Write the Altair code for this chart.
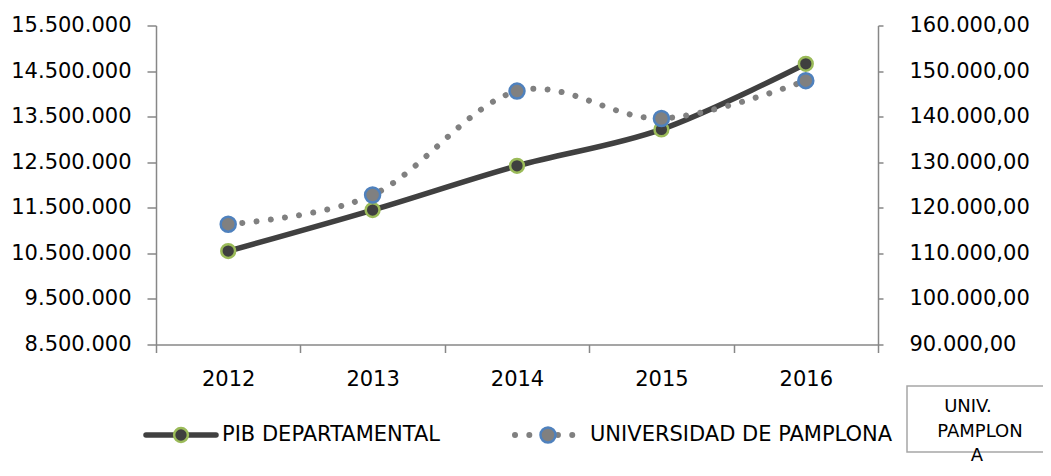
import altair as alt
import pandas as pd

# ---- data ----
years = ["2012", "2013", "2014", "2015", "2016"]
pib_values = [10550000, 11450000, 12420000, 13220000, 14660000]
univ_values = [116400, 122800, 145600, 139600, 147900]
series_names = ["PIB DEPARTAMENTAL", "UNIVERSIDAD DE PAMPLONA"]
left_ticks = [8500000, 9500000, 10500000, 11500000, 12500000, 13500000, 14500000, 15500000]
right_ticks = [90000, 100000, 110000, 120000, 130000, 140000, 150000, 160000]
box_lines = ["UNIV.", "PAMPLON", "A"]

FONT = "DejaVu Sans"
FS = 21
AXIS_COLOR = "#878787"
PIB_SIZE = 190
UNIV_SIZE = 225

df = pd.DataFrame({"year": years, "pib": pib_values, "univ": univ_values})
base = alt.Chart(df)

x = alt.X(
    "year:N",
    bandPosition=0.5,
    scale=alt.Scale(type="band", paddingInner=0, paddingOuter=0),
    axis=alt.Axis(
        title=None, tickBand="extent", labelAngle=0, tickSize=8, labelPadding=16,
        domainColor=AXIS_COLOR, tickColor=AXIS_COLOR, domainWidth=1.5, tickWidth=1.5,
        grid=False,
    ),
)

y_pib = alt.Y(
    "pib:Q",
    scale=alt.Scale(domain=[8500000, 15500000], nice=False, zero=False),
    axis=alt.Axis(
        orient="left", title=None, values=left_ticks, grid=False,
        labelExpr="replace(format(datum.value, ',.0f'), regexp(',', 'g'), '.')",
        tickSize=9, labelPadding=16, domainColor=AXIS_COLOR, tickColor=AXIS_COLOR,
        domainWidth=1.5, tickWidth=1.5,
    ),
)
y_univ = alt.Y(
    "univ:Q",
    scale=alt.Scale(domain=[90000, 160000], nice=False, zero=False),
    axis=alt.Axis(
        orient="right", title=None, values=right_ticks, grid=False,
        labelExpr="format(datum.value / 1000, 'd') + '.000,00'",
        tickSize=5, labelPadding=26, domainColor=AXIS_COLOR, tickColor=AXIS_COLOR,
        domainWidth=1.5, tickWidth=1.5,
    ),
)

pib_line = base.mark_line(color="#404040", strokeWidth=5.5, interpolate="cardinal").encode(x=x, y=y_pib)
pib_pts = base.mark_circle(size=PIB_SIZE, fill="#3F3F3F", stroke="#9BBB59", strokeWidth=2.5, opacity=1).encode(x=x, y=y_pib)
univ_line = base.mark_line(
    color="#808080", strokeWidth=6, strokeDash=[0.01, 14.3], strokeCap="round", interpolate="cardinal"
).encode(x=x, y=y_univ)
univ_pts = base.mark_circle(size=UNIV_SIZE, fill="#808080", stroke="#4F81BD", strokeWidth=2.5, opacity=1).encode(x=x, y=y_univ)

pib_layer = alt.layer(pib_line, pib_pts)
univ_layer = alt.layer(univ_line, univ_pts)

# ---- legend (drawn manually to mimic Excel's line+marker swatches) ----
leg1 = alt.Chart(pd.DataFrame({"label": [series_names[0]]}))
leg2 = alt.Chart(pd.DataFrame({"label": [series_names[1]]}))
LY = 409.5
leg_pib_line = leg1.mark_rule(color="#404040", strokeWidth=5.5, strokeCap="round").encode(
    x=alt.value(-10), x2=alt.value(60), y=alt.value(LY))
leg_pib_pt = leg1.mark_circle(size=PIB_SIZE, fill="#3F3F3F", stroke="#9BBB59", strokeWidth=2.5, opacity=1).encode(
    x=alt.value(25), y=alt.value(LY))
leg_pib_txt = leg1.mark_text(align="left", baseline="middle", font=FONT, fontSize=FS, color="#000000").encode(
    x=alt.value(66), y=alt.value(LY), text="label:N")
leg_univ_line = leg2.mark_rule(color="#808080", strokeWidth=6, strokeDash=[0.01, 14.3], strokeCap="round").encode(
    x=alt.value(359), x2=alt.value(420), y=alt.value(LY))
leg_univ_pt = leg2.mark_circle(size=UNIV_SIZE, fill="#808080", stroke="#4F81BD", strokeWidth=2.5, opacity=1).encode(
    x=alt.value(392), y=alt.value(LY))
leg_univ_txt = leg2.mark_text(align="left", baseline="middle", font=FONT, fontSize=FS, color="#000000").encode(
    x=alt.value(434), y=alt.value(LY), text="label:N")

# ---- data-label box at bottom right ----
BFS = 18
box = alt.Chart(pd.DataFrame({"label": [box_lines[0]]})).mark_rect(
    fill="white", stroke="#A6A6A6", strokeWidth=1.5).encode(
    x=alt.value(751), x2=alt.value(905), y=alt.value(360.5), y2=alt.value(426.5))
box_t1 = alt.Chart(pd.DataFrame({"t": [box_lines[0]]})).mark_text(
    align="center", baseline="middle", font=FONT, fontSize=BFS, color="#000000").encode(
    x=alt.value(812), y=alt.value(381), text="t:N")
box_t2 = alt.Chart(pd.DataFrame({"t": [box_lines[1]]})).mark_text(
    align="center", baseline="middle", font=FONT, fontSize=BFS, color="#000000").encode(
    x=alt.value(824), y=alt.value(406), text="t:N")
box_t3 = alt.Chart(pd.DataFrame({"t": [box_lines[2]]})).mark_text(
    align="center", baseline="middle", font=FONT, fontSize=BFS, color="#000000").encode(
    x=alt.value(821), y=alt.value(430.5), text="t:N")

chart = alt.layer(
    pib_layer, univ_layer,
    leg_pib_line, leg_pib_pt, leg_pib_txt,
    leg_univ_line, leg_univ_pt, leg_univ_txt,
    box, box_t1, box_t2, box_t3,
).resolve_scale(y="independent").properties(
    width=722, height=319,
    autosize=alt.AutoSizeParams(type="none"),
    padding={"left": 148, "top": 17.5, "right": 165, "bottom": 123.5},
).configure_view(stroke=None).configure_axis(
    labelFont=FONT, labelFontSize=FS, labelColor="#000000"
)

chart.save("out.html", embed_options={"renderer": "svg", "actions": False})
